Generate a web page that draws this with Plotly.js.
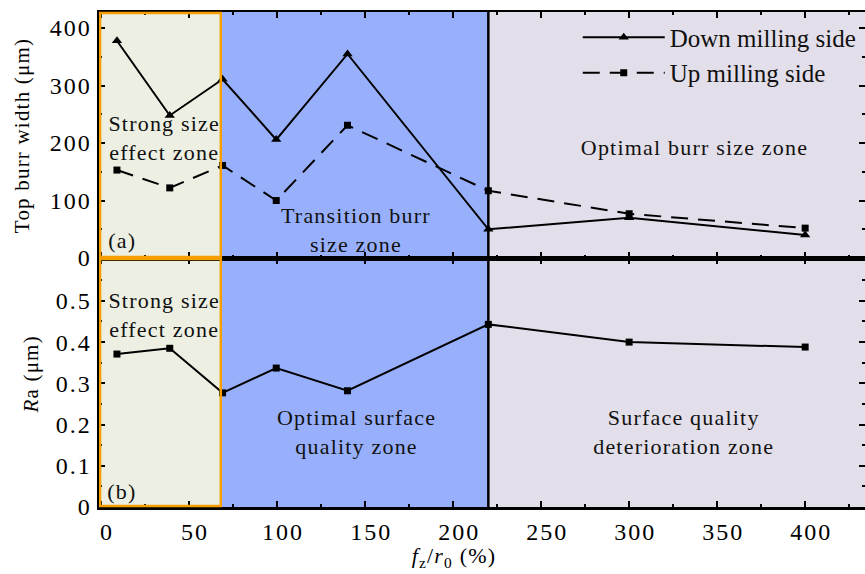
<!DOCTYPE html>
<html>
<head>
<meta charset="utf-8">
<script src="https://cdn.plot.ly/plotly-3.0.1.min.js"></script>
<style>
  html, body { margin: 0; padding: 0; background: #fff; }
  #chart { width: 865px; height: 574px; }
  /* wide, loosely set serif lettering */
  #chart .annotation-text { letter-spacing: 1.2px; }
  #chart .xaxislayer-above text, #chart .yaxislayer-above text { letter-spacing: 2px; }
</style>
</head>
<body>
<div id="chart"></div>
<script>
// Feed per tooth relative to cutting edge radius, fz/r0 (%)
const ratio = [9, 39, 69, 99.5, 140, 220, 300, 400];

// Top burr width (µm)
const downMilling = [378, 248, 311, 206, 355, 50, 70, 40];
const upMilling   = [153, 122, 161, 100, 231, 117, 77, 52];

// Surface roughness Ra (µm)
const roughness = [0.371, 0.385, 0.277, 0.337, 0.282, 0.443, 0.400, 0.388];

// Tick labels
const burrTicks = [0, 100, 200, 300, 400];
const raTicks = [0, 0.1, 0.2, 0.3, 0.4, 0.5];
const ratioTicks = [0, 50, 100, 150, 200, 250, 300, 350, 400];

// Zone limits along fz/r0
const zoneEdges = [-1.2, 68, 220, 434];
const zoneColors = ['#ECEFE2', '#98B0FC', '#E3DFEA'];

const serif = 'Liberation Serif, Times New Roman, serif';
const black = '#000';

const traces = [
  {
    x: ratio, y: downMilling, xaxis: 'x2', yaxis: 'y2',
    name: 'Down milling side', mode: 'lines+markers',
    line: { color: black, width: 2 },
    marker: { symbol: 'triangle-up', size: 9, color: black }
  },
  {
    x: ratio, y: upMilling, xaxis: 'x2', yaxis: 'y2',
    name: 'Up milling side', mode: 'lines+markers',
    line: { color: black, width: 2, dash: '17px,10px' },
    marker: { symbol: 'square', size: 7, color: black }
  },
  {
    x: ratio, y: roughness, xaxis: 'x', yaxis: 'y',
    name: 'Ra', mode: 'lines+markers', showlegend: false,
    line: { color: black, width: 2 },
    marker: { symbol: 'square', size: 7, color: black }
  }
];

// Background zones for both panels
const shapes = [];
['y domain', 'y2 domain'].forEach(function (yref) {
  for (let i = 0; i < zoneColors.length; i++) {
    shapes.push({
      type: 'rect', layer: 'below', xref: 'x', yref: yref,
      x0: zoneEdges[i], x1: zoneEdges[i + 1], y0: 0, y1: 1,
      fillcolor: zoneColors[i], line: { width: 0 }
    });
  }
  shapes.push({
    type: 'rect', layer: 'above', xref: 'x', yref: yref,
    x0: zoneEdges[0] + 0.6, x1: zoneEdges[1], y0: 0.004, y1: 0.996,
    fillcolor: 'rgba(0,0,0,0)', line: { color: '#F5A000', width: 2.5 }
  });
});
shapes.push({
  type: 'line', layer: 'above', xref: 'x', yref: 'paper',
  x0: zoneEdges[2], x1: zoneEdges[2], y0: 0, y1: 1,
  line: { color: black, width: 2.5 }
});

const textFont = { family: serif, size: 22, color: '#111' };
function note(text, x, y, xref, yref) {
  return { text: text, x: x, y: y, xref: xref, yref: yref,
           showarrow: false, font: textFont, align: 'center' };
}
const annotations = [
  note('Strong size<br>effect zone', 36, 209, 'x2', 'y2'),
  note('Transition burr<br>size zone', 145, 48, 'x2', 'y2'),
  note('Optimal burr size zone', 337, 193, 'x2', 'y2'),
  note('(a)', 12, 30, 'x2', 'y2'),
  note('Strong size<br>effect zone', 36, 0.466, 'x', 'y'),
  note('(b)', 12, 0.038, 'x', 'y'),
  note('Optimal surface<br>quality zone', 145, 0.182, 'x', 'y'),
  note('Surface quality<br>deterioration zone', 331, 0.182, 'x', 'y'),
  // axis titles
  { text: '<i>f</i><sub>z</sub>/<i>r</i><sub>0</sub> (%)', xref: 'paper', yref: 'paper',
    x: 0.4634, y: -0.101, xanchor: 'center', yanchor: 'middle', showarrow: false,
    font: { family: serif, size: 22, color: black } },
  { text: 'Top burr width (μm)', xref: 'paper', yref: 'paper', textangle: -90,
    x: 0, y: 0.750, xanchor: 'center', yanchor: 'middle', showarrow: false,
    xshift: -77, font: { family: serif, size: 21, color: black } },
  { text: '<i>R</i>a (μm)', xref: 'paper', yref: 'paper', textangle: -90,
    x: 0, y: 0.268, xanchor: 'center', yanchor: 'middle', showarrow: false,
    xshift: -68, font: { family: serif, size: 21, color: black } }
];

const tickFont = { family: serif, size: 24, color: black };
const axisCommon = {
  showline: true, linecolor: black, linewidth: 2.5, mirror: 'ticks',
  ticks: 'inside', ticklen: 6, tickwidth: 2, tickcolor: black,
  showgrid: false, zeroline: false, tickfont: tickFont
};

const layout = {
  width: 865, height: 574,
  margin: { l: 99, r: 0, t: 12, b: 67 },
  paper_bgcolor: '#fff', plot_bgcolor: 'rgba(0,0,0,0)',
  showlegend: true,
  legend: {
    x: 0.625, y: 0.995, xanchor: 'left', yanchor: 'top',
    bgcolor: 'rgba(0,0,0,0)', borderwidth: 0,
    font: { family: serif, size: 25, color: '#111' },
    itemwidth: 82, tracegroupgap: 0
  },
  xaxis: Object.assign({}, axisCommon, {
    anchor: 'y', range: [zoneEdges[0], zoneEdges[3]],
    tickmode: 'array', tickvals: ratioTicks, ticklabelshift: 6, ticklabelstandoff: 2,
    minor: { dtick: 25, tick0: 0, ticks: 'inside', ticklen: 3, tickwidth: 2, tickcolor: black }
  }),
  xaxis2: Object.assign({}, axisCommon, {
    anchor: 'y2', matches: 'x', range: [zoneEdges[0], zoneEdges[3]],
    tickmode: 'array', tickvals: ratioTicks, showticklabels: false,
    minor: { dtick: 25, tick0: 0, ticks: 'inside', ticklen: 3, tickwidth: 2, tickcolor: black }
  }),
  yaxis: Object.assign({}, axisCommon, {
    anchor: 'x', domain: [0, 0.503], range: [0, 0.604],
    tickmode: 'array', tickvals: raTicks,
    minor: { dtick: 0.05, tick0: 0, ticks: 'inside', ticklen: 3, tickwidth: 2, tickcolor: black }
  }),
  yaxis2: Object.assign({}, axisCommon, {
    anchor: 'x2', domain: [0.503, 1], range: [0, 428],
    tickmode: 'array', tickvals: burrTicks,
    minor: { dtick: 50, tick0: 0, ticks: 'inside', ticklen: 3, tickwidth: 2, tickcolor: black }
  }),
  shapes: shapes,
  annotations: annotations
};

Plotly.newPlot('chart', traces, layout, { displayModeBar: false, staticPlot: true });
</script>
</body>
</html>
